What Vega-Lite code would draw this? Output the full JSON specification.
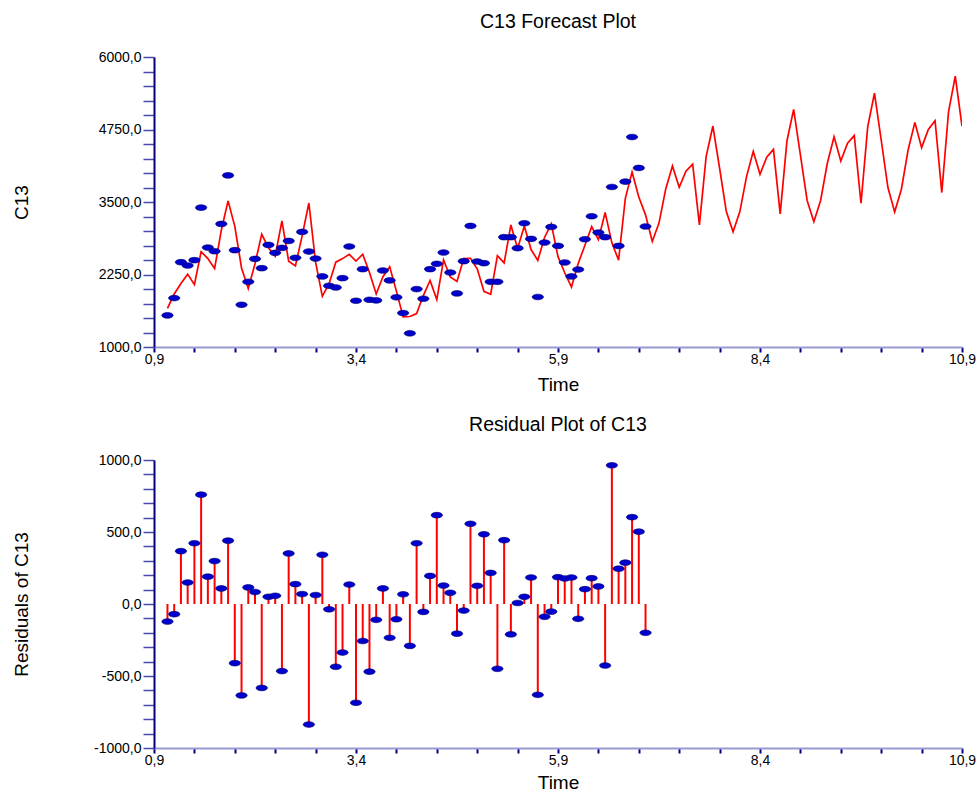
{
  "$schema": "https://vega.github.io/schema/vega-lite/v6.json",
  "background": "white",
  "padding": {"left": 12, "top": 11, "right": 0, "bottom": 0},
  "bounds": "flush",
  "spacing": 113,
  "config": {
    "view": {"stroke": null},
    "font": "Liberation Sans",
    "title": {"fontSize": 19.5, "fontWeight": "normal", "font": "Liberation Sans", "color": "#000000", "frame": "group", "offset": 18, "anchor": "middle"},
    "axisX": {"labelOverlap": false, "labelFlush": false, "labelBound": false, "grid": false,
      "domainColor": "#9999d6", "domainWidth": 2, "tickColor": "#000080", "tickWidth": 2, "tickSize": 5,
      "labelPadding": 0, "labelFontSize": 14, "labelColor": "#000000", "labelFont": "Liberation Sans",
      "titleFontSize": 19, "titleFontWeight": "normal", "titleColor": "#000000", "titleFont": "Liberation Sans",
      "titleY": 43.5, "titleBaseline": "alphabetic"},
    "axisY": {"labelOverlap": false, "labelFlush": false, "labelBound": false, "grid": false,
      "domainColor": "#000080", "domainWidth": 2, "tickColor": "#4a4aac", "tickWidth": 1.5, "tickSize": 11,
      "labelPadding": 2, "labelFontSize": 14, "labelColor": "#000000", "labelFont": "Liberation Sans",
      "titleFontSize": 19, "titleFontWeight": "normal", "titleColor": "#000000", "titleFont": "Liberation Sans",
      "titleX": -127, "titleBaseline": "alphabetic"}
  },
  "datasets": {
    "obs": [
      {"t": 1.0667, "v": 1545, "r": -122}, {"t": 1.15, "v": 1843, "r": -71}, {"t": 1.2333, "v": 2462, "r": 367}, {"t": 1.3167, "v": 2405, "r": 149},
      {"t": 1.4, "v": 2497, "r": 422}, {"t": 1.4833, "v": 3403, "r": 759}, {"t": 1.5667, "v": 2714, "r": 190}, {"t": 1.65, "v": 2651, "r": 298},
      {"t": 1.7333, "v": 3122, "r": 108}, {"t": 1.8167, "v": 3959, "r": 440}, {"t": 1.9, "v": 2669, "r": -411}, {"t": 1.9833, "v": 1728, "r": -635},
      {"t": 2.0667, "v": 2124, "r": 115}, {"t": 2.15, "v": 2519, "r": 83}, {"t": 2.2333, "v": 2359, "r": -583}, {"t": 2.3167, "v": 2760, "r": 50},
      {"t": 2.4, "v": 2623, "r": 57}, {"t": 2.4833, "v": 2709, "r": -466}, {"t": 2.5667, "v": 2829, "r": 351}, {"t": 2.65, "v": 2537, "r": 138},
      {"t": 2.7333, "v": 2984, "r": 69}, {"t": 2.8167, "v": 2646, "r": -837}, {"t": 2.9, "v": 2525, "r": 62}, {"t": 2.9833, "v": 2216, "r": 342},
      {"t": 3.0667, "v": 2055, "r": -37}, {"t": 3.15, "v": 2026, "r": -436}, {"t": 3.2333, "v": 2187, "r": -337}, {"t": 3.3167, "v": 2732, "r": 135},
      {"t": 3.4, "v": 1797, "r": -686}, {"t": 3.4833, "v": 2342, "r": -257}, {"t": 3.5667, "v": 1814, "r": -470}, {"t": 3.65, "v": 1803, "r": -110},
      {"t": 3.7333, "v": 2319, "r": 108}, {"t": 3.8167, "v": 2147, "r": -235}, {"t": 3.9, "v": 1857, "r": -106}, {"t": 3.9833, "v": 1585, "r": 67},
      {"t": 4.0667, "v": 1235, "r": -291}, {"t": 4.15, "v": 1998, "r": 422}, {"t": 4.2333, "v": 1832, "r": -55}, {"t": 4.3167, "v": 2342, "r": 195},
      {"t": 4.4, "v": 2434, "r": 617}, {"t": 4.4833, "v": 2629, "r": 128}, {"t": 4.5667, "v": 2284, "r": 78}, {"t": 4.65, "v": 1924, "r": -206},
      {"t": 4.7333, "v": 2479, "r": -46}, {"t": 4.8167, "v": 3087, "r": 557}, {"t": 4.9, "v": 2474, "r": 126}, {"t": 4.9833, "v": 2445, "r": 484},
      {"t": 5.0667, "v": 2124, "r": 216}, {"t": 5.15, "v": 2124, "r": -450}, {"t": 5.2333, "v": 2893, "r": 443}, {"t": 5.3167, "v": 2893, "r": -211},
      {"t": 5.4, "v": 2704, "r": 7}, {"t": 5.4833, "v": 3134, "r": 50}, {"t": 5.5667, "v": 2864, "r": 184}, {"t": 5.65, "v": 1862, "r": -631},
      {"t": 5.7333, "v": 2800, "r": -89}, {"t": 5.8167, "v": 3070, "r": -53}, {"t": 5.9, "v": 2743, "r": 186}, {"t": 5.9833, "v": 2457, "r": 177},
      {"t": 6.0667, "v": 2216, "r": 184}, {"t": 6.15, "v": 2336, "r": -103}, {"t": 6.2333, "v": 2858, "r": 103}, {"t": 6.3167, "v": 3254, "r": 179},
      {"t": 6.4, "v": 2973, "r": 122}, {"t": 6.4833, "v": 2893, "r": -427}, {"t": 6.5667, "v": 3759, "r": 963}, {"t": 6.65, "v": 2743, "r": 245},
      {"t": 6.7333, "v": 3851, "r": 287}, {"t": 6.8167, "v": 4620, "r": 603}, {"t": 6.9, "v": 4087, "r": 502}, {"t": 6.9833, "v": 3078, "r": -200}
    ],
    "fit": [
      {"t": 1.0667, "f": 1667}, {"t": 1.15, "f": 1914}, {"t": 1.2333, "f": 2095}, {"t": 1.3167, "f": 2256},
      {"t": 1.4, "f": 2075}, {"t": 1.4833, "f": 2644}, {"t": 1.5667, "f": 2524}, {"t": 1.65, "f": 2353},
      {"t": 1.7333, "f": 3014}, {"t": 1.8167, "f": 3519}, {"t": 1.9, "f": 3080}, {"t": 1.9833, "f": 2363},
      {"t": 2.0667, "f": 2009}, {"t": 2.15, "f": 2436}, {"t": 2.2333, "f": 2942}, {"t": 2.3167, "f": 2710},
      {"t": 2.4, "f": 2566}, {"t": 2.4833, "f": 3175}, {"t": 2.5667, "f": 2478}, {"t": 2.65, "f": 2399},
      {"t": 2.7333, "f": 2915}, {"t": 2.8167, "f": 3483}, {"t": 2.9, "f": 2463}, {"t": 2.9833, "f": 1874},
      {"t": 3.0667, "f": 2092}, {"t": 3.15, "f": 2462}, {"t": 3.2333, "f": 2524}, {"t": 3.3167, "f": 2597},
      {"t": 3.4, "f": 2483}, {"t": 3.4833, "f": 2599}, {"t": 3.5667, "f": 2284}, {"t": 3.65, "f": 1913},
      {"t": 3.7333, "f": 2211}, {"t": 3.8167, "f": 2382}, {"t": 3.9, "f": 1963}, {"t": 3.9833, "f": 1518},
      {"t": 4.0667, "f": 1526}, {"t": 4.15, "f": 1576}, {"t": 4.2333, "f": 1887}, {"t": 4.3167, "f": 2147},
      {"t": 4.4, "f": 1817}, {"t": 4.4833, "f": 2501}, {"t": 4.5667, "f": 2206}, {"t": 4.65, "f": 2130},
      {"t": 4.7333, "f": 2525}, {"t": 4.8167, "f": 2530}, {"t": 4.9, "f": 2348}, {"t": 4.9833, "f": 1961},
      {"t": 5.0667, "f": 1908}, {"t": 5.15, "f": 2574}, {"t": 5.2333, "f": 2450}, {"t": 5.3167, "f": 3104},
      {"t": 5.4, "f": 2697}, {"t": 5.4833, "f": 3084}, {"t": 5.5667, "f": 2680}, {"t": 5.65, "f": 2493},
      {"t": 5.7333, "f": 2889}, {"t": 5.8167, "f": 3123}, {"t": 5.9, "f": 2557}, {"t": 5.9833, "f": 2280},
      {"t": 6.0667, "f": 2032}, {"t": 6.15, "f": 2439}, {"t": 6.2333, "f": 2755}, {"t": 6.3167, "f": 3075},
      {"t": 6.4, "f": 2851}, {"t": 6.4833, "f": 3320}, {"t": 6.5667, "f": 2796}, {"t": 6.65, "f": 2498},
      {"t": 6.7333, "f": 3564}, {"t": 6.8167, "f": 4017}, {"t": 6.9, "f": 3585}, {"t": 6.9833, "f": 3278},
      {"t": 7.0667, "f": 2820}, {"t": 7.15, "f": 3136}, {"t": 7.2333, "f": 3726}, {"t": 7.3167, "f": 4122},
      {"t": 7.4, "f": 3755}, {"t": 7.4833, "f": 4030}, {"t": 7.5667, "f": 4151}, {"t": 7.65, "f": 3107},
      {"t": 7.7333, "f": 4282}, {"t": 7.8167, "f": 4810}, {"t": 7.9, "f": 4082}, {"t": 7.9833, "f": 3336},
      {"t": 8.0667, "f": 2986}, {"t": 8.15, "f": 3330}, {"t": 8.2333, "f": 3938}, {"t": 8.3167, "f": 4374},
      {"t": 8.4, "f": 3978}, {"t": 8.4833, "f": 4271}, {"t": 8.5667, "f": 4408}, {"t": 8.65, "f": 3296},
      {"t": 8.7333, "f": 4552}, {"t": 8.8167, "f": 5097}, {"t": 8.9, "f": 4311}, {"t": 8.9833, "f": 3526},
      {"t": 9.0667, "f": 3159}, {"t": 9.15, "f": 3526}, {"t": 9.2333, "f": 4168}, {"t": 9.3167, "f": 4626},
      {"t": 9.4, "f": 4208}, {"t": 9.4833, "f": 4512}, {"t": 9.5667, "f": 4644}, {"t": 9.65, "f": 3479},
      {"t": 9.7333, "f": 4798}, {"t": 9.8167, "f": 5377}, {"t": 9.9, "f": 4569}, {"t": 9.9833, "f": 3749},
      {"t": 10.0667, "f": 3330}, {"t": 10.15, "f": 3720}, {"t": 10.2333, "f": 4397}, {"t": 10.3167, "f": 4873},
      {"t": 10.4, "f": 4437}, {"t": 10.4833, "f": 4752}, {"t": 10.5667, "f": 4901}, {"t": 10.65, "f": 3663},
      {"t": 10.7333, "f": 5056}, {"t": 10.8167, "f": 5670}, {"t": 10.9, "f": 4810}
    ]
  },
  "vconcat": [
    {
      "width": 808,
      "height": 290,
      "title": {"text": "C13 Forecast Plot"},
      "layer": [
        {
          "data": {"name": "fit"},
          "mark": {"type": "line", "color": "#ff0000", "strokeWidth": 1.7, "clip": true},
          "encoding": {
            "x": {"field": "t", "type": "quantitative", "title": "Time",
              "scale": {"domain": [0.9, 10.9], "nice": false, "zero": false},
              "axis": {"values": [0.9, 1.4, 1.9, 2.4, 2.9, 3.4, 3.9, 4.4, 4.9, 5.4, 5.9, 6.4, 6.9, 7.4, 7.9, 8.4, 8.9, 9.4, 9.9, 10.4, 10.9],
                "labelExpr": "abs((datum.value-0.9)/2.5 - round((datum.value-0.9)/2.5)) < 0.001 ? replace(format(datum.value, '.1f'), '.', ',') : ''"}},
            "y": {"field": "f", "type": "quantitative", "title": "C13",
              "scale": {"domain": [1000, 6000], "nice": false, "zero": false},
              "axis": {"values": [1000, 1250, 1500, 1750, 2000, 2250, 2500, 2750, 3000, 3250, 3500, 3750, 4000, 4250, 4500, 4750, 5000, 5250, 5500, 5750, 6000],
                "labelExpr": "(datum.value - 1000) % 1250 == 0 ? replace(format(datum.value, '.1f'), '.', ',') : ''"}}
          }
        },
        {
          "data": {"name": "obs"},
          "mark": {"type": "point", "shape": "M-1,0A1,0.5,0,1,1,1,0A1,0.5,0,1,1,-1,0Z", "filled": true, "size": 130, "fill": "#0000cc", "stroke": "#000070", "strokeWidth": 0.6, "opacity": 1},
          "encoding": {
            "x": {"field": "t", "type": "quantitative", "title": "Time",
              "axis": {"values": [0.9, 1.4, 1.9, 2.4, 2.9, 3.4, 3.9, 4.4, 4.9, 5.4, 5.9, 6.4, 6.9, 7.4, 7.9, 8.4, 8.9, 9.4, 9.9, 10.4, 10.9],
                "labelExpr": "abs((datum.value-0.9)/2.5 - round((datum.value-0.9)/2.5)) < 0.001 ? replace(format(datum.value, '.1f'), '.', ',') : ''"}},
            "y": {"field": "v", "type": "quantitative", "title": "C13",
              "axis": {"values": [1000, 1250, 1500, 1750, 2000, 2250, 2500, 2750, 3000, 3250, 3500, 3750, 4000, 4250, 4500, 4750, 5000, 5250, 5500, 5750, 6000],
                "labelExpr": "(datum.value - 1000) % 1250 == 0 ? replace(format(datum.value, '.1f'), '.', ',') : ''"}}
          }
        }
      ]
    },
    {
      "width": 808,
      "height": 288,
      "title": {"text": "Residual Plot of C13"},
      "data": {"name": "obs"},
      "layer": [
        {
          "mark": {"type": "rule", "color": "#ff0000", "strokeWidth": 2},
          "encoding": {
            "x": {"field": "t", "type": "quantitative", "title": "Time",
              "scale": {"domain": [0.9, 10.9], "nice": false, "zero": false},
              "axis": {"titleY": 40, "values": [0.9, 1.4, 1.9, 2.4, 2.9, 3.4, 3.9, 4.4, 4.9, 5.4, 5.9, 6.4, 6.9, 7.4, 7.9, 8.4, 8.9, 9.4, 9.9, 10.4, 10.9],
                "labelExpr": "abs((datum.value-0.9)/2.5 - round((datum.value-0.9)/2.5)) < 0.001 ? replace(format(datum.value, '.1f'), '.', ',') : ''"}},
            "y": {"field": "r", "type": "quantitative", "title": "Residuals of C13",
              "scale": {"domain": [-1000, 1000], "nice": false, "zero": false},
              "axis": {"values": [-1000, -900, -800, -700, -600, -500, -400, -300, -200, -100, 0, 100, 200, 300, 400, 500, 600, 700, 800, 900, 1000],
                "labelExpr": "datum.value % 500 == 0 ? replace(replace(format(datum.value, '.1f'), '.', ','), '\u2212', '-') : ''"}},
            "y2": {"datum": 0}
          }
        },
        {
          "mark": {"type": "point", "shape": "M-1,0A1,0.5,0,1,1,1,0A1,0.5,0,1,1,-1,0Z", "filled": true, "size": 130, "fill": "#0000cc", "stroke": "#000070", "strokeWidth": 0.6, "opacity": 1},
          "encoding": {
            "x": {"field": "t", "type": "quantitative", "title": "Time",
              "axis": {"titleY": 40, "values": [0.9, 1.4, 1.9, 2.4, 2.9, 3.4, 3.9, 4.4, 4.9, 5.4, 5.9, 6.4, 6.9, 7.4, 7.9, 8.4, 8.9, 9.4, 9.9, 10.4, 10.9],
                "labelExpr": "abs((datum.value-0.9)/2.5 - round((datum.value-0.9)/2.5)) < 0.001 ? replace(format(datum.value, '.1f'), '.', ',') : ''"}},
            "y": {"field": "r", "type": "quantitative", "title": "Residuals of C13",
              "axis": {"values": [-1000, -900, -800, -700, -600, -500, -400, -300, -200, -100, 0, 100, 200, 300, 400, 500, 600, 700, 800, 900, 1000],
                "labelExpr": "datum.value % 500 == 0 ? replace(replace(format(datum.value, '.1f'), '.', ','), '\u2212', '-') : ''"}}
          }
        }
      ]
    }
  ]
}
